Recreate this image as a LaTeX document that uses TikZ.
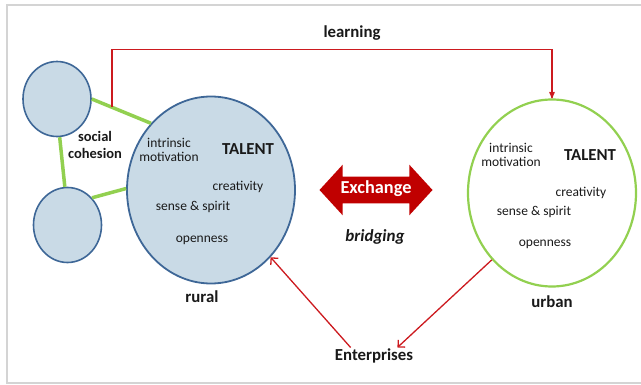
\documentclass[tikz,border=0pt]{standalone}
\usepackage{fontspec}
\setmainfont{Carlito}
\usetikzlibrary{arrows,arrows.meta,positioning,shapes.geometric,shapes.arrows}

\definecolor{poolfill}{HTML}{C9DAE6}
\definecolor{poolline}{HTML}{3E6797}
\definecolor{bondgreen}{HTML}{92D050}
\definecolor{linkred}{HTML}{CC1A1F}
\definecolor{xchred}{HTML}{C00000}
\definecolor{framegray}{HTML}{D4D4D4}

\begin{document}
\begin{tikzpicture}[x=1pt, y=-1pt, >=stealth', semithick, text=black!90]
\tikzstyle{every node}=[inner sep=1pt]
\tikzstyle{small}=[ellipse,fill=poolfill,draw=poolline,line width=1.6pt,minimum width=68pt,minimum height=75pt]
\tikzstyle{talent}=[ellipse,line width=1.8pt,minimum width=168pt,minimum height=187pt]
\tikzstyle{bond}=[draw=bondgreen,line width=3.5pt]
\tikzstyle{link}=[draw=linkred,line width=1.3pt]
\tikzstyle{barb}=[-{Straight Barb[length=5pt,width=10pt]}]
\tikzstyle{trait}=[font=\fontsize{13.5}{14}\selectfont,align=center]
\tikzstyle{head}=[font=\fontsize{16.8}{17}\selectfont\bfseries,align=center]
\tikzstyle{exchange}=[double arrow,fill=xchred,text=white,font=\fontsize{18.3}{18}\selectfont\bfseries,
  minimum height=113pt,minimum width=50pt,double arrow head extend=12pt,double arrow tip angle=95,
  text height=12pt,text depth=4pt,inner xsep=1pt,inner ysep=5pt]

\useasboundingbox (0,0) rectangle (641,385);
\draw[framegray,line width=2.5pt] (7,5) rectangle (660,383);

% the pools
\node[small] (tl) at (57,99) {};
\node[small] (bl) at (67.5,225) {};
\node[talent,fill=poolfill,draw=poolline] (rural) at (211,190) {};
\node[talent,draw=bondgreen,line width=2.2pt] (urban) at (552,193) {};

% social cohesion
\draw[bond] (tl.east) -- coordinate[pos=0.344] (lstart) (rural.132);
\draw[bond] (bl.48) -- (rural.179);
\draw[bond] (tl.-86) -- (bl.94);
\node[head,font=\fontsize{14.5}{17.5}\selectfont\bfseries] (cohesion) at (95,145) {social\\cohesion};

% rural talent
\node[trait] (rmot) at (169,150) {intrinsic\\motivation};
\node[head] (rtal) at (248,149) {TALENT};
\node[trait] (rcre) at (238,187) {creativity};
\node[trait] (rsen) at (193,207) {sense \& spirit};
\node[trait] (rope) at (202,240) {openness};
\node[head] (rlab) at (202,297) {rural};

% urban talent
\node[trait] (umot) at (511,155) {intrinsic\\motivation};
\node[head] (utal) at (590,155) {TALENT};
\node[trait] (ucre) at (581,193) {creativity};
\node[trait] (usen) at (534,212) {sense \& spirit};
\node[trait] (uope) at (545,244) {openness};
\node[head] (ulab) at (552,302) {urban};

% exchange
\node[exchange] (xch) at (376,190) {Exchange};
\node[head,font=\fontsize{17}{17}\selectfont\bfseries\itshape] (bridge) at (375,237) {bridging};
\node[head] (learn) at (352,33) {learning};
\node[head] (ent) at (374,356) {Enterprises};

\draw[link,->] (lstart) -- ++(0,-57.6) -| (urban.north);
\draw[link,barb] (ent.160) -- (rural);
\draw[link,barb] (urban.228) -- (ent.20);
\end{tikzpicture}
\end{document}
